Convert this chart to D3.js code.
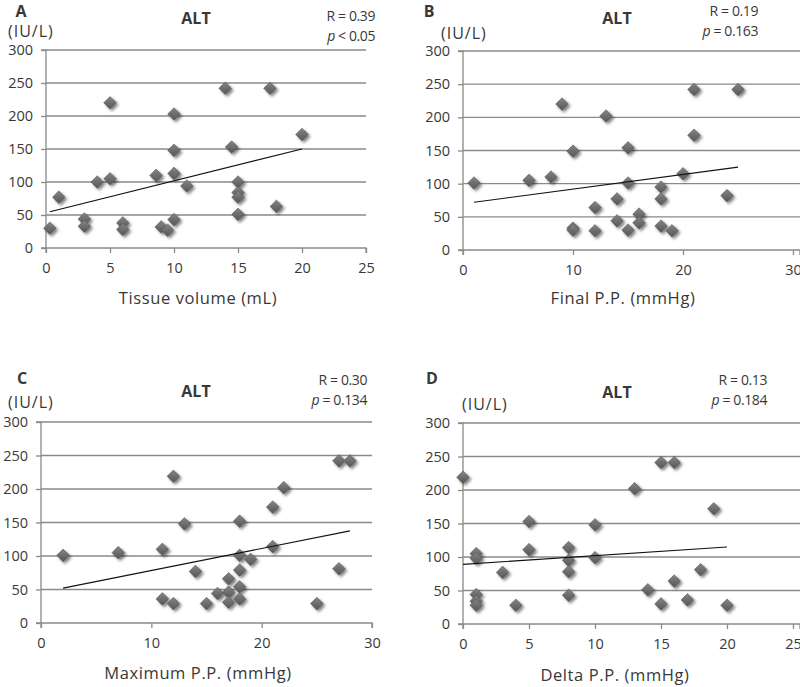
<!DOCTYPE html>
<html>
<head>
<meta charset="utf-8">
<script src="https://cdn.jsdelivr.net/npm/d3@7"></script>
<style>
  html, body { margin: 0; padding: 0; background: #fff; }
  svg { display: block; font-family: "Open Sans", "Noto Sans", sans-serif; }
</style>
</head>
<body>
<svg id="chart" width="800" height="687"></svg>
<script>
// ---- Data ----
const xA = [0.3, 1, 3, 3, 4, 5, 5, 6, 6, 8.6, 9, 9.5, 10, 10, 10, 10, 11, 14, 14.5, 15, 15, 15, 15, 17.5, 18, 20];
const yA = [30, 77, 44, 33, 100, 220, 105, 38, 28, 110, 32, 27, 203, 148, 113, 43, 94, 242, 153, 100, 84, 77, 51, 242, 63, 172];

const xB = [1, 6, 8, 9, 10, 10, 10, 12, 12, 13, 14, 14, 15, 15, 15, 16, 16, 18, 18, 18, 19, 20, 21, 21, 24, 25];
const yB = [101, 105, 110, 220, 149, 33, 30, 64, 29, 202, 77, 44, 154, 101, 30, 54, 41, 95, 77, 36, 29, 115, 242, 173, 82, 242];

const xC = [2, 7, 11, 11, 12, 12, 13, 14, 15, 16, 17, 17, 17, 18, 18, 18, 18, 18, 19, 21, 21, 22, 25, 27, 27, 28];
const yC = [101, 105, 110, 36, 219, 29, 148, 77, 29, 44, 66, 46, 31, 152, 101, 79, 54, 36, 95, 173, 114, 202, 29, 242, 81, 242];

const xD = [0, 1, 1, 1, 1, 1, 3, 4, 5, 5, 8, 8, 8, 8, 10, 10, 13, 14, 15, 15, 16, 16, 17, 18, 19, 20];
const yD = [219, 105, 98, 44, 34, 28, 77, 28, 153, 111, 114, 95, 78, 43, 148, 99, 202, 51, 241, 30, 241, 64, 36, 81, 172, 28];

// trend lines: [xStart, yStart, xEnd, yEnd] in data units
const trendA = [0.3, 55, 20, 150];
const trendB = [1, 72, 25, 125];
const trendC = [2, 52, 28, 137.5];
const trendD = [0, 89, 20, 115];

const yTicks = [0, 50, 100, 150, 200, 250, 300];
const xTicksA = [0, 5, 10, 15, 20, 25];
const xTicksB = [0, 10, 20, 30];
const xTicksC = [0, 10, 20, 30];
const xTicksD = [0, 5, 10, 15, 20, 25];

const panelLetters = ["A", "B", "C", "D"];
const titles = ["ALT", "ALT", "ALT", "ALT"];
const xLabels = ["Tissue volume (mL)", "Final P.P. (mmHg)", "Maximum P.P. (mmHg)", "Delta P.P. (mmHg)"];
const rTexts = ["R = 0.39", "R = 0.19", "R = 0.30", "R = 0.13"];
const pOps = ["< 0.05", "= 0.163", "= 0.134", "= 0.184"];
const unitLabel = "(IU/L)";

// ---- Layout (pixels) ----
const panels = [
  { xs: xA, ys: yA, trend: trendA, xTicks: xTicksA, xMax: 25,
    left: 46, right: 366, top: 50, bottom: 248, gridRight: 366,
    letter: [21, 11], title: [196, 18], unit: [8, 31], stat: [375, 16], xlab: [198, 298] },
  { xs: xB, ys: yB, trend: trendB, xTicks: xTicksB, xMax: 30,
    left: 463, right: 793, top: 51, bottom: 250, gridRight: 800,
    letter: [429, 11], title: [617, 18], unit: [441, 33], stat: [758, 11], xlab: [623, 298] },
  { xs: xC, ys: yC, trend: trendC, xTicks: xTicksC, xMax: 30,
    left: 41, right: 372, top: 422, bottom: 623, gridRight: 372,
    letter: [22, 378], title: [196, 391], unit: [8, 402], stat: [367, 380], xlab: [198, 673] },
  { xs: xD, ys: yD, trend: trendD, xTicks: xTicksD, xMax: 25,
    left: 463, right: 793, top: 423, bottom: 624, gridRight: 800,
    letter: [432, 378], title: [617, 392], unit: [462, 404], stat: [767, 380], xlab: [615, 675] }
];

const svg = d3.select("#chart");
const textColor = "#383838";
const gridColor = "#8a8a8a";

// defs: marker gradient + shadow
const defs = svg.append("defs");
const grad = defs.append("linearGradient").attr("id", "mk").attr("x1", "0").attr("y1", "0").attr("x2", "1").attr("y2", "1");
grad.append("stop").attr("offset", "0%").attr("stop-color", "#858585");
grad.append("stop").attr("offset", "100%").attr("stop-color", "#565656");
const flt = defs.append("filter").attr("id", "sh").attr("x", "-50%").attr("y", "-50%").attr("width", "200%").attr("height", "200%");
flt.append("feGaussianBlur").attr("in", "SourceAlpha").attr("stdDeviation", 1.5).attr("result", "b");
flt.append("feOffset").attr("in", "b").attr("dx", 1.5).attr("dy", 1.8).attr("result", "o");
flt.append("feComponentTransfer").attr("in", "o").attr("result", "o2")
  .append("feFuncA").attr("type", "linear").attr("slope", 0.5);
const fm = flt.append("feMerge");
fm.append("feMergeNode").attr("in", "o2");
fm.append("feMergeNode").attr("in", "SourceGraphic");

const diamond = d3.symbol().type(d3.symbolSquare).size(80)();

panels.forEach((p, i) => {
  const x = d3.scaleLinear().domain([0, p.xMax]).range([p.left, p.right]);
  const y = d3.scaleLinear().domain([0, 300]).range([p.bottom, p.top]);
  const g = svg.append("g");

  // gridlines
  g.append("g").selectAll("line").data(yTicks.filter(t => t > 0)).join("line")
    .attr("x1", p.left).attr("x2", p.gridRight)
    .attr("y1", d => y(d)).attr("y2", d => y(d))
    .attr("stroke", gridColor).attr("stroke-width", 1.3);

  // y axis
  const ya = g.append("g").attr("transform", `translate(${p.left},0)`)
    .call(d3.axisLeft(y).tickValues(yTicks).tickSize(5).tickPadding(8));
  // x axis
  const xa = g.append("g").attr("transform", `translate(0,${p.bottom})`)
    .call(d3.axisBottom(x).tickValues(p.xTicks).tickSize(5).tickPadding(10));
  [ya, xa].forEach(a => {
    a.select(".domain").attr("stroke", gridColor).attr("stroke-width", 1.3);
    a.selectAll(".tick line").attr("stroke", gridColor).attr("stroke-width", 1.3);
    a.selectAll(".tick text").attr("fill", textColor).attr("font-size", 14.5)
      .attr("font-family", "'Open Sans', sans-serif");
  });
  xa.select(".domain").attr("d", `M${p.left},5V0H${p.gridRight}V5`);
  ya.select(".domain").attr("d", `M-5,${p.top}H0V${p.bottom}H-5`);

  // points
  const pts = p.xs.map((v, k) => [v, p.ys[k]]);
  g.append("g").attr("filter", "url(#sh)").selectAll("path").data(pts).join("path")
    .attr("d", diamond)
    .attr("transform", d => `translate(${x(d[0])},${y(d[1])}) rotate(45)`)
    .attr("fill", "url(#mk)")
    .attr("stroke", "#505050").attr("stroke-width", 0.5);

  // trend line
  g.append("line")
    .attr("x1", x(p.trend[0])).attr("y1", y(p.trend[1]))
    .attr("x2", x(p.trend[2])).attr("y2", y(p.trend[3]))
    .attr("stroke", "#111").attr("stroke-width", 1.1);

  // texts
  g.append("text").attr("x", p.letter[0]).attr("y", p.letter[1]).attr("dy", "0.35em")
    .attr("text-anchor", "middle").attr("font-weight", "bold").attr("font-size", 16)
    .attr("fill", textColor).text(panelLetters[i]);
  g.append("text").attr("x", p.title[0]).attr("y", p.title[1]).attr("dy", "0.35em")
    .attr("text-anchor", "middle").attr("font-weight", "bold").attr("font-size", 16)
    .attr("fill", textColor).text(titles[i]);
  g.append("text").attr("x", p.unit[0]).attr("y", p.unit[1]).attr("dy", "0.35em")
    .attr("font-size", 16).attr("letter-spacing", 1).attr("fill", textColor).text(unitLabel);
  g.append("text").attr("x", p.stat[0]).attr("y", p.stat[1]).attr("dy", "0.35em")
    .attr("text-anchor", "end").attr("font-size", 14).attr("letter-spacing", -0.4)
    .attr("fill", textColor).text(rTexts[i]);
  const pt = g.append("text").attr("x", p.stat[0]).attr("y", p.stat[1] + 20).attr("dy", "0.35em")
    .attr("text-anchor", "end").attr("font-size", 14).attr("letter-spacing", -0.4)
    .attr("fill", textColor);
  pt.append("tspan").attr("font-style", "italic").text("p");
  pt.append("tspan").text(" " + pOps[i]);
  g.append("text").attr("x", p.xlab[0]).attr("y", p.xlab[1]).attr("dy", "0.35em")
    .attr("text-anchor", "middle").attr("font-size", 16.5).attr("letter-spacing", 0.6)
    .attr("fill", textColor).text(xLabels[i]);
});
</script>
</body>
</html>
